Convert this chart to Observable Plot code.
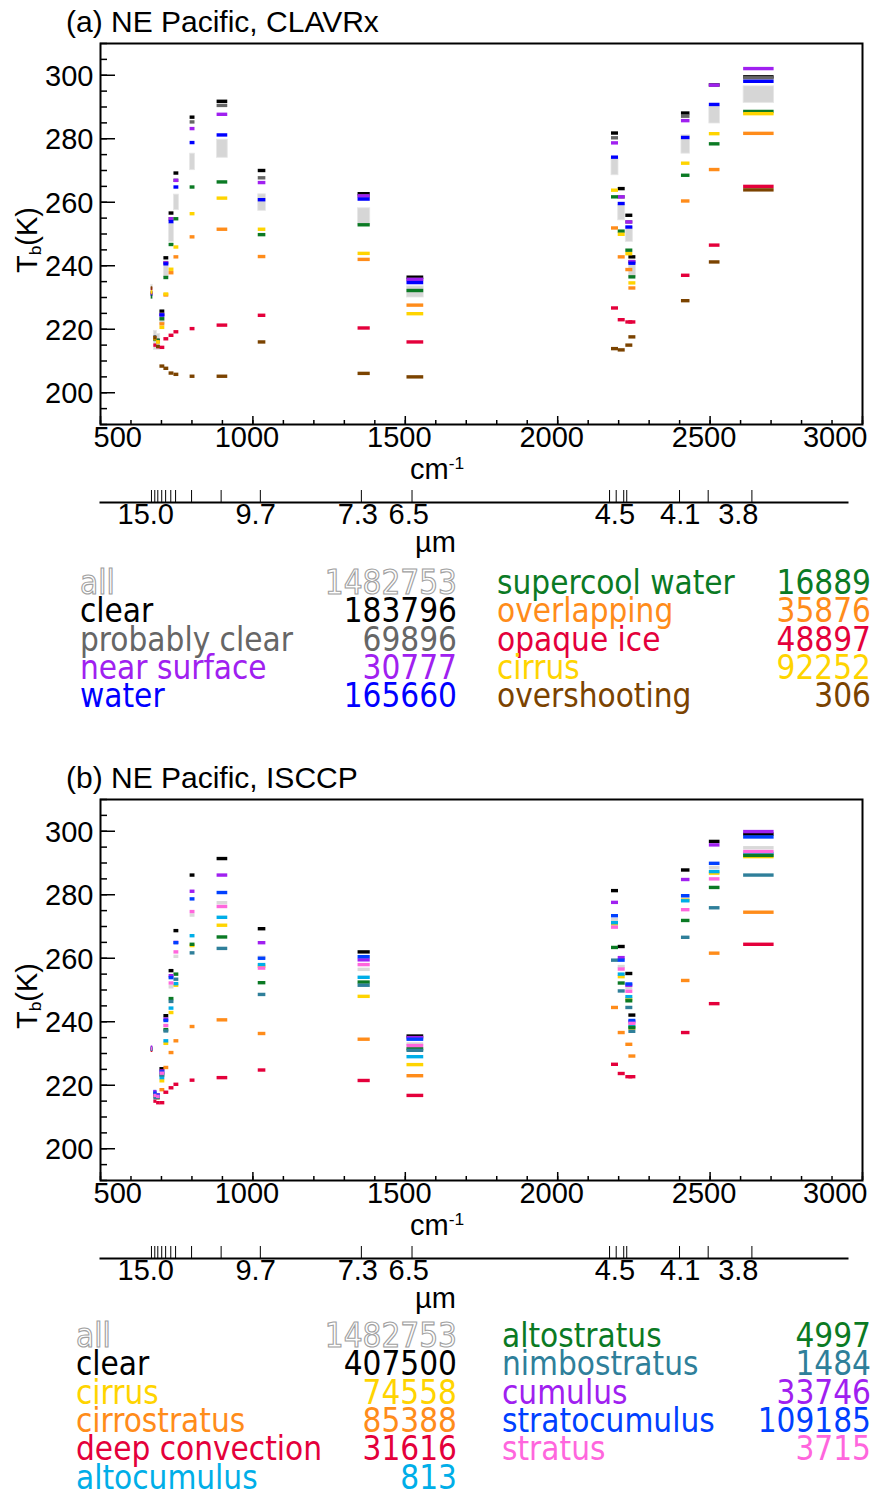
<!DOCTYPE html>
<html><head><meta charset="utf-8">
<script src="https://cdn.jsdelivr.net/npm/d3@7"></script>
<script src="https://cdn.jsdelivr.net/npm/@observablehq/plot@0.6"></script>
<style>
body{margin:0;background:#fff;}
#root{position:relative;width:872px;height:1492px;overflow:hidden;background:#fff;font-family:"Liberation Sans",Arial,sans-serif;}
.abs{position:absolute;white-space:nowrap;line-height:1;}
.big{font-size:29px;}
.title{font-size:30px;}
.leg{font-family:"DejaVu Sans Condensed","DejaVu Sans",sans-serif;font-stretch:condensed;font-size:33px;line-height:24px;}
.outline{color:#fff;-webkit-text-stroke:1.1px #a0a0a0;}
sub{font-size:0.6em;vertical-align:-0.25em;line-height:0;}
sup{font-size:0.6em;vertical-align:0.6em;line-height:0;}
</style></head><body><div id="root"></div>
<script>
// HIRS channels 1..19: central wavenumber (cm-1) and bandwidth (cm-1)
const wavenumber = [669, 680, 690, 703, 716, 733, 749, 900, 1030, 802, 1365, 1533, 2188, 2210, 2235, 2245, 2420, 2515, 2660];
const bandwidth  = [5, 10, 12, 16, 16, 16, 16, 35, 25, 16, 40, 55, 23, 23, 23, 23, 28, 35, 100];

// axis tick values
const xTickLabels = [500, 1000, 1500, 2000, 2500, 3000];
const xMinorTicks = d3.range(500, 3001, 100);
const yTickLabels = [200, 220, 240, 260, 280, 300];
const yMinorTicks = d3.range(190, 311, 5);
const umTickLabels = [15.0, 9.7, 7.3, 6.5, 4.5, 4.1, 3.8];
const umAxisDomain = [500, 2977]; // wavenumber extent of the micrometre axis line

// ---------- Panel (a) NE Pacific, CLAVRx ----------
const aTitle = "(a) NE Pacific, CLAVRx";
const aCategories = ["clear", "probably clear", "near surface", "water", "supercool water", "overlapping", "opaque ice", "cirrus", "overshooting"];
const aCounts = [183796, 69896, 30777, 165660, 16889, 35876, 48897, 92252, 306];
const aColors = ["#000000", "#666666", "#a020f0", "#0000ff", "#0b7a24", "#ff8c1a", "#e4003b", "#ffd400", "#7b4300"];
const aAllCount = 1482753;
const aAllLow  = [229.5, 213.5, 213.5, 221.5, 236.5, 247.5, 257.5, 274.0, 257.3, 270.1, 252.9, 230.0, 268.5, 254.3, 247.5, 236.5, 275.3, 284.8, 291.3];
const aAllHigh = [234.0, 219.5, 218.5, 224.5, 240.0, 253.3, 262.4, 279.7, 262.5, 275.3, 258.1, 233.5, 274.1, 259.1, 252.2, 240.7, 281.1, 290.2, 296.5];
const aClear         = [231.5, 217.5, 216.5, 225.7, 242.5, 256.6, 269.2, 291.8, 270.0, 286.8, 262.7, 236.4, 281.8, 264.3, 255.9, 242.8, 288.1, 297.0, 299.5];
const aProbablyClear = [231.3, 217.3, 216.3, 224.7, 241.0, 254.8, 266.9, 290.5, 267.7, 285.3, 262.0, 235.7, 280.3, 261.7, 253.8, 241.3, 287.1, 296.9, 299.2];
const aNearSurface   = [231.0, 217.0, 216.3, 224.6, 240.9, 254.8, 266.9, 287.7, 266.2, 283.2, 262.0, 235.7, 278.7, 261.7, 253.8, 241.3, 285.7, 296.9, 302.1];
const aWater         = [231.0, 217.0, 216.2, 224.5, 240.6, 253.9, 264.8, 281.2, 260.8, 278.8, 261.0, 234.7, 274.2, 259.6, 252.2, 240.8, 280.4, 290.8, 298.1];
const aSupercool     = [230.2, 216.8, 216.5, 223.3, 236.3, 246.7, 254.8, 266.4, 249.8, 264.8, 252.9, 232.2, 261.7, 250.9, 244.9, 236.5, 268.5, 278.4, 288.6];
const aOverlapping   = [231.5, 217.3, 216.0, 221.7, 230.8, 237.8, 242.8, 251.5, 242.9, 249.1, 242.0, 227.6, 251.9, 242.8, 238.8, 233.0, 260.4, 270.3, 281.7];
const aOpaqueIce     = [232.8, 215.0, 214.5, 214.3, 217.0, 218.1, 219.2, 221.3, 224.4, 220.2, 220.4, 216.0, 226.7, 223.0, 222.3, 222.3, 237.0, 246.5, 265.0];
const aCirrus        = [231.8, 217.0, 216.0, 220.6, 231.1, 238.9, 245.9, 261.3, 251.5, 256.4, 243.9, 224.9, 263.8, 249.9, 243.8, 234.6, 272.3, 281.6, 287.9];
const aOvershooting  = [233.0, 217.3, 214.6, 208.4, 207.7, 206.2, 205.8, 205.2, 216.0, 205.2, 206.1, 205.0, 213.9, 213.5, 215.0, 217.6, 229.0, 241.2, 263.9];

// ---------- Panel (b) NE Pacific, ISCCP ----------
const bTitle = "(b) NE Pacific, ISCCP";
const bCategories = ["clear", "cirrus", "cirrostratus", "deep convection", "altocumulus", "altostratus", "nimbostratus", "cumulus", "stratocumulus", "stratus"];
const bCounts = [407500, 74558, 85388, 31616, 813, 4997, 1484, 33746, 109185, 3715];
const bColors = ["#000000", "#ffd400", "#ff8c1a", "#e4003b", "#00aee8", "#0b7a24", "#2f7f9a", "#a020f0", "#0040ff", "#ff66dd"];
const bAllCount = 1482753;
const bAll            = [231.5, 216.5, 216.3, 224.0, 238.8, 251.0, 260.6, 277.5, 260.3, 273.6, 256.5, 233.0, 272.2, 257.4, 250.7, 239.2, 278.9, 288.6, 294.8];
const bClear          = [231.8, 217.5, 216.8, 225.2, 241.9, 256.1, 268.7, 291.4, 269.3, 286.2, 262.0, 235.5, 281.3, 263.7, 255.2, 242.1, 287.8, 296.8, 299.1];
const bCirrus         = [231.3, 216.8, 216.3, 221.4, 233.2, 242.9, 251.5, 270.4, 257.5, 264.0, 248.0, 226.5, 270.8, 254.2, 247.2, 238.0, 278.3, 286.8, 292.0];
const bCirrostratus   = [231.0, 216.5, 216.0, 218.6, 225.6, 230.3, 234.0, 240.6, 236.3, 238.5, 234.5, 223.0, 244.5, 236.6, 232.9, 229.2, 253.0, 261.6, 274.5];
const bDeepConvection = [231.0, 215.0, 214.5, 214.5, 217.8, 219.2, 220.3, 222.4, 224.8, 221.6, 221.5, 216.8, 226.6, 223.7, 222.7, 222.7, 236.6, 245.7, 264.4];
const bAltocumulus    = [231.5, 218.0, 217.0, 222.4, 234.0, 244.3, 252.0, 272.9, 258.0, 267.1, 254.0, 229.0, 271.2, 255.0, 247.9, 238.5, 278.1, 287.3, 293.0];
const bAltostratus    = [231.3, 217.0, 216.3, 223.5, 237.5, 247.3, 255.0, 266.7, 252.3, 264.4, 252.5, 231.5, 263.4, 252.2, 246.6, 238.2, 271.9, 282.3, 292.4];
const bNimbostratus   = [231.3, 216.1, 216.1, 223.2, 237.1, 246.4, 253.4, 263.1, 248.6, 261.7, 251.5, 231.0, 259.4, 249.7, 244.5, 237.0, 266.6, 275.9, 286.2];
const bCumulus        = [232.0, 218.0, 217.0, 224.5, 240.8, 254.5, 265.0, 286.2, 264.9, 281.1, 259.5, 235.0, 277.6, 260.2, 251.5, 240.0, 284.8, 295.7, 299.9];
const bStratocumulus  = [231.5, 217.5, 216.8, 224.2, 240.4, 253.9, 264.9, 280.7, 260.0, 278.7, 260.5, 234.5, 273.4, 259.4, 251.9, 240.4, 279.7, 289.9, 298.2];
const bStratus        = [231.5, 216.8, 216.5, 223.8, 238.8, 252.2, 262.0, 276.3, 256.9, 274.7, 258.0, 232.5, 269.8, 256.6, 249.6, 239.5, 275.3, 285.0, 293.6];

const root = document.getElementById("root");
function addDiv(html, cls, style) {
  const d = document.createElement("div");
  d.className = "abs " + cls;
  d.innerHTML = html;
  Object.assign(d.style, style);
  root.appendChild(d);
  return d;
}
function addSvg(svg, top) {
  svg.style.position = "absolute";
  svg.style.left = "0px";
  svg.style.top = top + "px";
  root.appendChild(svg);
}
const FONT = '"Liberation Sans", Arial, sans-serif';

function drawPanel(off, cfg) {
  const span = (i) => ({x1: wavenumber[i] - bandwidth[i] / 2, x2: wavenumber[i] + bandwidth[i] / 2});
  const dashes = [];
  cfg.series.forEach((vals, k) => vals.forEach((T, i) => dashes.push({...span(i), T, color: cfg.colors[k]})));
  const band = cfg.allLow ? wavenumber.map((w, i) => ({...span(i), lo: cfg.allLow[i], hi: cfg.allHigh[i]})) : [];
  const allDash = cfg.allLine ? cfg.allLine.map((T, i) => ({...span(i), T})) : [];

  const main = Plot.plot({
    width: 872, height: 480,
    marginTop: 43, marginBottom: 56, marginLeft: 100, marginRight: 10,
    x: {domain: [500, 3000], axis: null},
    y: {domain: [190, 310], axis: null},
    style: {fontFamily: FONT, fontSize: "29px", background: "transparent", overflow: "visible"},
    marks: [
      Plot.rect(band, {x1: "x1", x2: "x2", y1: "lo", y2: "hi", fill: "#d6d6d6", stroke: "#e6e6e6", strokeWidth: 0.8}),
      Plot.ruleY(allDash, {y: "T", x1: "x1", x2: "x2", stroke: "#d9d9d9", strokeWidth: 3.4}),
      Plot.ruleY(dashes, {y: "T", x1: "x1", x2: "x2", stroke: "color", strokeWidth: 3.4}),
      Plot.frame({stroke: "#000", strokeWidth: 2}),
      Plot.axisY(yMinorTicks, {tickSize: -7, fill: "none", strokeWidth: 1.5, label: null}),
      Plot.axisY(yTickLabels, {tickSize: -15, fill: "none", strokeWidth: 1.5, label: null}),
      Plot.axisX(xMinorTicks, {tickSize: -4, fill: "none", strokeWidth: 1.5, label: null}),
      Plot.axisX(xTickLabels, {tickSize: -8, fill: "none", strokeWidth: 1.5, label: null}),
      Plot.text(yTickLabels, {y: d => d, text: d => String(d), frameAnchor: "left", textAnchor: "end", dx: -7, dy: 1, fontSize: 29}),
      Plot.text(xTickLabels.slice(0, 1), {x: d => d, text: d => String(d), frameAnchor: "bottom", textAnchor: "start", dx: -7, dy: 22, fontSize: 29}),
      Plot.text(xTickLabels.slice(1, -1), {x: d => d, text: d => String(d), frameAnchor: "bottom", dx: -6, dy: 22, fontSize: 29}),
      Plot.text(xTickLabels.slice(-1), {x: d => d, text: d => String(d), frameAnchor: "bottom", textAnchor: "end", dx: 5, dy: 22, fontSize: 29})
    ]
  });
  addSvg(main, off);

  const um = Plot.plot({
    width: 872, height: 50,
    marginTop: 4, marginBottom: 34, marginLeft: 100, marginRight: 25,
    x: {domain: umAxisDomain, axis: null},
    style: {fontFamily: FONT, fontSize: "29px", background: "transparent", overflow: "visible"},
    marks: [
      Plot.tickX(wavenumber, {x: d => d, stroke: "#000", strokeWidth: 1}),
      Plot.frame({anchor: "bottom", stroke: "#000", strokeWidth: 2}),
      Plot.text(umTickLabels, {x: d => 1e4 / d, text: d => d.toFixed(1), frameAnchor: "bottom", dx: -5, dy: 21, fontSize: 29})
    ]
  });
  addSvg(um, off + 486);

  addDiv(cfg.title, "title", {left: "66px", top: (off + 7) + "px"});
  addDiv("T<sub>b</sub>(K)", "big", {left: "27px", top: (off + 240) + "px", transform: "translate(-50%,-50%) rotate(-90deg)"});
  addDiv("cm<sup>-1</sup>", "big", {left: "410px", top: (off + 455) + "px"});
  addDiv("\u00b5m", "big", {left: "415px", top: (off + 528) + "px"});

  // legend
  const legTop = off + cfg.legTop;
  const step = 28.4;
  const left = [{name: "all", count: cfg.allCount, color: null}];
  const right = [];
  cfg.categories.forEach((c, k) => {
    const item = {name: c, count: cfg.counts[k], color: cfg.colors[k]};
    if (k < cfg.leftRows) left.push(item); else right.push(item);
  });
  const lift = 12.2;
  left.forEach((it, r) => {
    const y = legTop + r * step - lift;
    const cls = it.color ? "leg" : "leg outline";
    const st = it.color ? {color: it.color} : {};
    addDiv(it.name, cls, {left: cfg.legLeftX + "px", top: y + "px", ...st});
    addDiv(String(it.count), cls, {right: (872 - 457) + "px", top: y + "px", ...st});
  });
  right.forEach((it, r) => {
    const y = legTop + r * step - lift;
    addDiv(it.name, "leg", {left: cfg.legRightX + "px", top: y + "px", color: it.color});
    addDiv(String(it.count), "leg", {right: "1px", top: y + "px", color: it.color});
  });
}

drawPanel(0, {
  title: aTitle, categories: aCategories, counts: aCounts, colors: aColors, allCount: aAllCount,
  series: [aClear, aProbablyClear, aNearSurface, aWater, aSupercool, aOverlapping, aOpaqueIce, aCirrus, aOvershooting],
  allLow: aAllLow, allHigh: aAllHigh, leftRows: 4, legLeftX: 80, legRightX: 497, legTop: 583
});
drawPanel(756, {
  title: bTitle, categories: bCategories, counts: bCounts, colors: bColors, allCount: bAllCount,
  series: [bClear, bCirrus, bCirrostratus, bDeepConvection, bAltocumulus, bAltostratus, bNimbostratus, bCumulus, bStratocumulus, bStratus],
  allLine: bAll, leftRows: 5, legLeftX: 76, legRightX: 502, legTop: 580
});
</script></body></html>
